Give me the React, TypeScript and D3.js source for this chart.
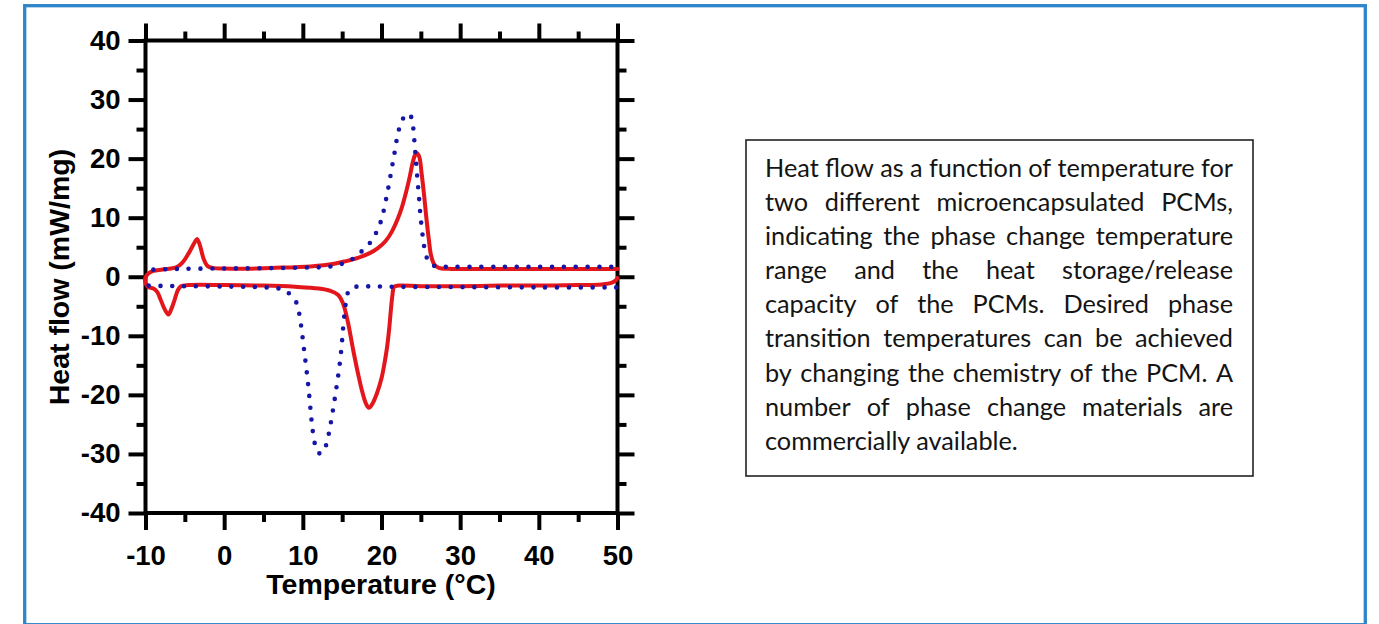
import React, { useEffect, useRef } from 'react';
import * as d3 from 'd3';

const W = 1379;
const H = 624;

const xMajorTicks = [-10, 0, 10, 20, 30, 40, 50];
const xMinorTicks = [-5, 5, 15, 25, 35, 45];
const yMajorTicks = [-40, -30, -20, -10, 0, 10, 20, 30, 40];
const yMinorTicks = [-35, -25, -15, -5, 5, 15, 25, 35];

const xTitle = 'Temperature (°C)';
const yTitle = 'Heat flow (mW/mg)';

// Sample B (red, solid) – heating branch, [temperature °C, heat flow mW/mg]
const redHeating: [number, number][] = [
  [-10, -0.1], [-9.6, 0.6], [-9.0, 1.0], [-8, 1.2], [-7, 1.35], [-6.1, 1.6], [-5.3, 2.4],
  [-4.5, 4.0], [-3.8, 5.7], [-3.45, 6.4], [-3.1, 5.4], [-2.6, 3.0], [-2.1, 1.8], [-1.5, 1.5],
  [0, 1.4], [2, 1.35], [6, 1.5], [11, 1.75], [14, 2.2], [15.5, 2.65], [17, 3.2], [18.5, 4.0],
  [19.5, 4.8], [20.5, 6.0], [21.3, 7.6], [22, 9.6], [22.6, 11.8], [23.1, 14.2], [23.6, 17],
  [24.0, 19.5], [24.3, 20.7], [24.5, 20.9], [24.8, 20.3], [25.1, 17.5], [25.4, 14], [25.7, 10],
  [26.0, 6.5], [26.3, 3.6], [26.7, 2.1], [27.3, 1.5], [28.5, 1.35], [35, 1.3], [43, 1.3],
  [50, 1.3],
];

// Sample B (red, solid) – cooling branch
const redCooling: [number, number][] = [
  [-10, -1.1], [-9.7, -1.7], [-9.0, -2.0], [-8.5, -2.6], [-8.1, -3.8], [-7.6, -5.4], [-7.1, -6.4],
  [-6.7, -5.4], [-6.3, -3.9], [-5.9, -2.3], [-5.5, -1.6], [-4.5, -1.4], [0, -1.4], [5, -1.5],
  [9, -1.7], [12, -2.0], [13.5, -2.4], [14.5, -3.1], [15.1, -4.5], [15.7, -7.5], [16.4, -12.4],
  [17, -16.3], [17.5, -19.2], [18.0, -21.4], [18.4, -22.2], [18.8, -21.6], [19.4, -19.8],
  [20.0, -17.2], [20.4, -14.5], [20.7, -12.0], [21.0, -8.5], [21.2, -5.5], [21.4, -3.0],
  [21.6, -1.7], [22.2, -1.5], [25, -1.6], [30, -1.6], [35, -1.5], [40, -1.5], [45, -1.4],
  [48, -1.3], [49.3, -1.0], [49.8, -0.6], [50, -0.2],
];

// Sample A (blue, dotted) – heating branch
const blueHeating: [number, number][] = [
  [-9.0, 1.2], [-7, 1.3], [-5, 1.35], [0, 1.4], [5, 1.45], [10, 1.55], [13.3, 1.7], [15, 2.2],
  [16.2, 2.9], [17.3, 4.1], [18.4, 5.5], [19.3, 7.4], [20, 9.7], [20.5, 12.6], [20.9, 15.3],
  [21.3, 18.3], [21.7, 21.3], [22.1, 24.3], [22.7, 26.7], [23.5, 27.6], [23.9, 26.5],
  [24.1, 24.2], [24.3, 21.0], [24.5, 17.6], [24.75, 13.7], [25.0, 9.7], [25.3, 6.3],
  [25.6, 3.9], [26.1, 2.3], [26.8, 1.8], [28, 1.7], [35, 1.7], [42, 1.7], [50, 1.7],
];

// Sample A (blue, dotted) – cooling branch
const blueCooling: [number, number][] = [
  [-9.6, -1.5], [-8, -1.55], [-5, -1.6], [0, -1.65], [4, -1.75], [7, -2.0], [7.9, -2.5],
  [9.0, -3.9], [9.5, -6.0], [9.85, -9], [10.15, -12.3], [10.45, -15.6], [10.75, -19.2],
  [11.0, -22.8], [11.25, -26], [11.6, -28.6], [12.1, -29.9], [12.6, -29.7], [13.0, -28.3],
  [13.4, -25.9], [13.8, -22.8], [14.2, -19.4], [14.6, -15.7], [14.9, -12.2], [15.1, -9],
  [15.3, -6.2], [15.5, -4.2], [15.8, -2.5], [16.4, -1.8], [17.5, -1.65], [22, -1.7],
  [30, -1.75], [40, -1.8], [50, -1.8],
];

const captionLines = [
  'Heat flow as a function of temperature for',
  'two different microencapsulated PCMs,',
  'indicating the phase change temperature',
  'range and the heat storage/release',
  'capacity of the PCMs. Desired phase',
  'transition temperatures can be achieved',
  'by changing the chemistry of the PCM. A',
  'number of phase change materials are',
  'commercially available.',
];

const RED = '#E3161C';
const BLUE = '#1515A8';
const FRAME = '#2F85C9';
const AXIS_FONT = '"Liberation Sans", Arial, Helvetica, sans-serif';

export default function App() {
  const ref = useRef<SVGSVGElement | null>(null);

  useEffect(() => {
    const svg = d3.select(ref.current);
    svg.selectAll('*').remove();

    // outer blue frame
    svg.append('rect')
      .attr('x', 24.7).attr('y', 5.7)
      .attr('width', 1340.6).attr('height', 619)
      .attr('fill', 'none').attr('stroke', FRAME).attr('stroke-width', 3.3);

    const x = d3.scaleLinear().domain([-10, 50]).range([145.5, 617.5]);
    const y = d3.scaleLinear().domain([-40, 40]).range([513, 40.5]);

    const plot = svg.append('g');

    const styleAxis = (g: any, labels: boolean) => {
      g.select('.domain').remove();
      g.selectAll('.tick line').attr('stroke', '#000').attr('stroke-width', 4);
      if (labels) {
        g.selectAll('.tick text')
          .attr('fill', '#000')
          .attr('font-family', AXIS_FONT)
          .attr('font-weight', 'bold')
          .attr('font-size', 27.5);
      } else {
        g.selectAll('.tick text').remove();
      }
    };

    const fmt = (d: any) => String(d);

    // bottom
    plot.append('g').attr('transform', `translate(0,${y(-40)})`)
      .call(d3.axisBottom(x).tickValues(xMajorTicks).tickSize(17).tickSizeOuter(0).tickPadding(15).tickFormat(fmt))
      .call((g: any) => styleAxis(g, true));
    plot.append('g').attr('transform', `translate(0,${y(-40)})`)
      .call(d3.axisBottom(x).tickValues(xMinorTicks).tickSize(9).tickSizeOuter(0))
      .call((g: any) => styleAxis(g, false));
    // top
    plot.append('g').attr('transform', `translate(0,${y(40)})`)
      .call(d3.axisTop(x).tickValues(xMajorTicks).tickSize(17).tickSizeOuter(0))
      .call((g: any) => styleAxis(g, false));
    plot.append('g').attr('transform', `translate(0,${y(40)})`)
      .call(d3.axisTop(x).tickValues(xMinorTicks).tickSize(9).tickSizeOuter(0))
      .call((g: any) => styleAxis(g, false));
    // left
    plot.append('g').attr('transform', `translate(${x(-10)},0)`)
      .call(d3.axisLeft(y).tickValues(yMajorTicks).tickSize(17).tickSizeOuter(0).tickPadding(8).tickFormat(fmt))
      .call((g: any) => styleAxis(g, true));
    plot.append('g').attr('transform', `translate(${x(-10)},0)`)
      .call(d3.axisLeft(y).tickValues(yMinorTicks).tickSize(9).tickSizeOuter(0))
      .call((g: any) => styleAxis(g, false));
    // right
    plot.append('g').attr('transform', `translate(${x(50)},0)`)
      .call(d3.axisRight(y).tickValues(yMajorTicks).tickSize(17).tickSizeOuter(0))
      .call((g: any) => styleAxis(g, false));
    plot.append('g').attr('transform', `translate(${x(50)},0)`)
      .call(d3.axisRight(y).tickValues(yMinorTicks).tickSize(9).tickSizeOuter(0))
      .call((g: any) => styleAxis(g, false));

    // plot frame
    plot.append('rect')
      .attr('x', x(-10)).attr('y', y(40))
      .attr('width', x(50) - x(-10)).attr('height', y(-40) - y(40))
      .attr('fill', 'none').attr('stroke', '#000').attr('stroke-width', 4);

    const line = d3.line<[number, number]>()
      .x((d) => x(d[0]))
      .y((d) => y(d[1]))
      .curve(d3.curveCatmullRom.alpha(0.5));

    // red loop: cooling (right -> left) joined to heating (left -> right)
    const redLoop = [...redCooling.slice().reverse(), ...redHeating];
    plot.append('path')
      .attr('d', line(redLoop))
      .attr('fill', 'none').attr('stroke', RED).attr('stroke-width', 4)
      .attr('stroke-linejoin', 'round').attr('stroke-linecap', 'round');

    [blueHeating, blueCooling].forEach((pts) => {
      plot.append('path')
        .attr('d', line(pts))
        .attr('fill', 'none').attr('stroke', BLUE).attr('stroke-width', 4.6)
        .attr('stroke-dasharray', '0 11.8').attr('stroke-linecap', 'round');
    });

    // axis titles
    plot.append('text')
      .attr('transform', `translate(69,277) rotate(-90)`)
      .attr('text-anchor', 'middle')
      .attr('font-family', AXIS_FONT).attr('font-weight', 'bold').attr('font-size', 28.5)
      .attr('fill', '#000')
      .text(yTitle);
    plot.append('text')
      .attr('x', 381).attr('y', 594)
      .attr('text-anchor', 'middle')
      .attr('font-family', AXIS_FONT).attr('font-weight', 'bold').attr('font-size', 28.5)
      .attr('fill', '#000')
      .text(xTitle);

    // caption box
    svg.append('rect')
      .attr('x', 746).attr('y', 140)
      .attr('width', 507).attr('height', 336)
      .attr('fill', 'none').attr('stroke', '#222').attr('stroke-width', 1.6);

    const cap = svg.append('g')
      .attr('font-family', 'Lato, "Open Sans", sans-serif')
      .attr('fill', '#141414');
    const left = 765;
    const right = 1233;
    const probe = cap.append('text').attr('font-size', 100).text(captionLines[captionLines.length - 1]);
    const wLast = (probe.node() as SVGTextElement).getComputedTextLength();
    let fs = (100 * 253) / wLast;
    captionLines.slice(0, -1).forEach((ln) => {
      probe.attr('font-size', fs).text(ln);
      const w = (probe.node() as SVGTextElement).getComputedTextLength();
      const n = ln.split(' ').length;
      const minW = w - (n - 1) * fs * 0.22 + (n - 1) * fs * 0.15;
      if (minW > right - left) fs = fs * ((right - left) / minW);
    });
    probe.remove();

    captionLines.forEach((ln, i) => {
      const base = 176.5 + i * 34.17;
      if (i === captionLines.length - 1) {
        cap.append('text').attr('x', left).attr('y', base).attr('font-size', fs).text(ln);
        return;
      }
      const words = ln.split(' ');
      const nodes = words.map((w) => cap.append('text').attr('y', base).attr('font-size', fs).text(w));
      const widths = nodes.map((nd) => (nd.node() as SVGTextElement).getComputedTextLength());
      const total = d3.sum(widths);
      const gap = words.length > 1 ? (right - left - total) / (words.length - 1) : 0;
      let cx = left;
      nodes.forEach((nd, k) => {
        nd.attr('x', cx);
        cx += widths[k] + gap;
      });
    });
  }, []);

  return (
    <svg
      ref={ref}
      width={W}
      height={H}
      style={{ position: 'absolute', left: 0, top: 0, display: 'block', background: '#fff' }}
    />
  );
}
